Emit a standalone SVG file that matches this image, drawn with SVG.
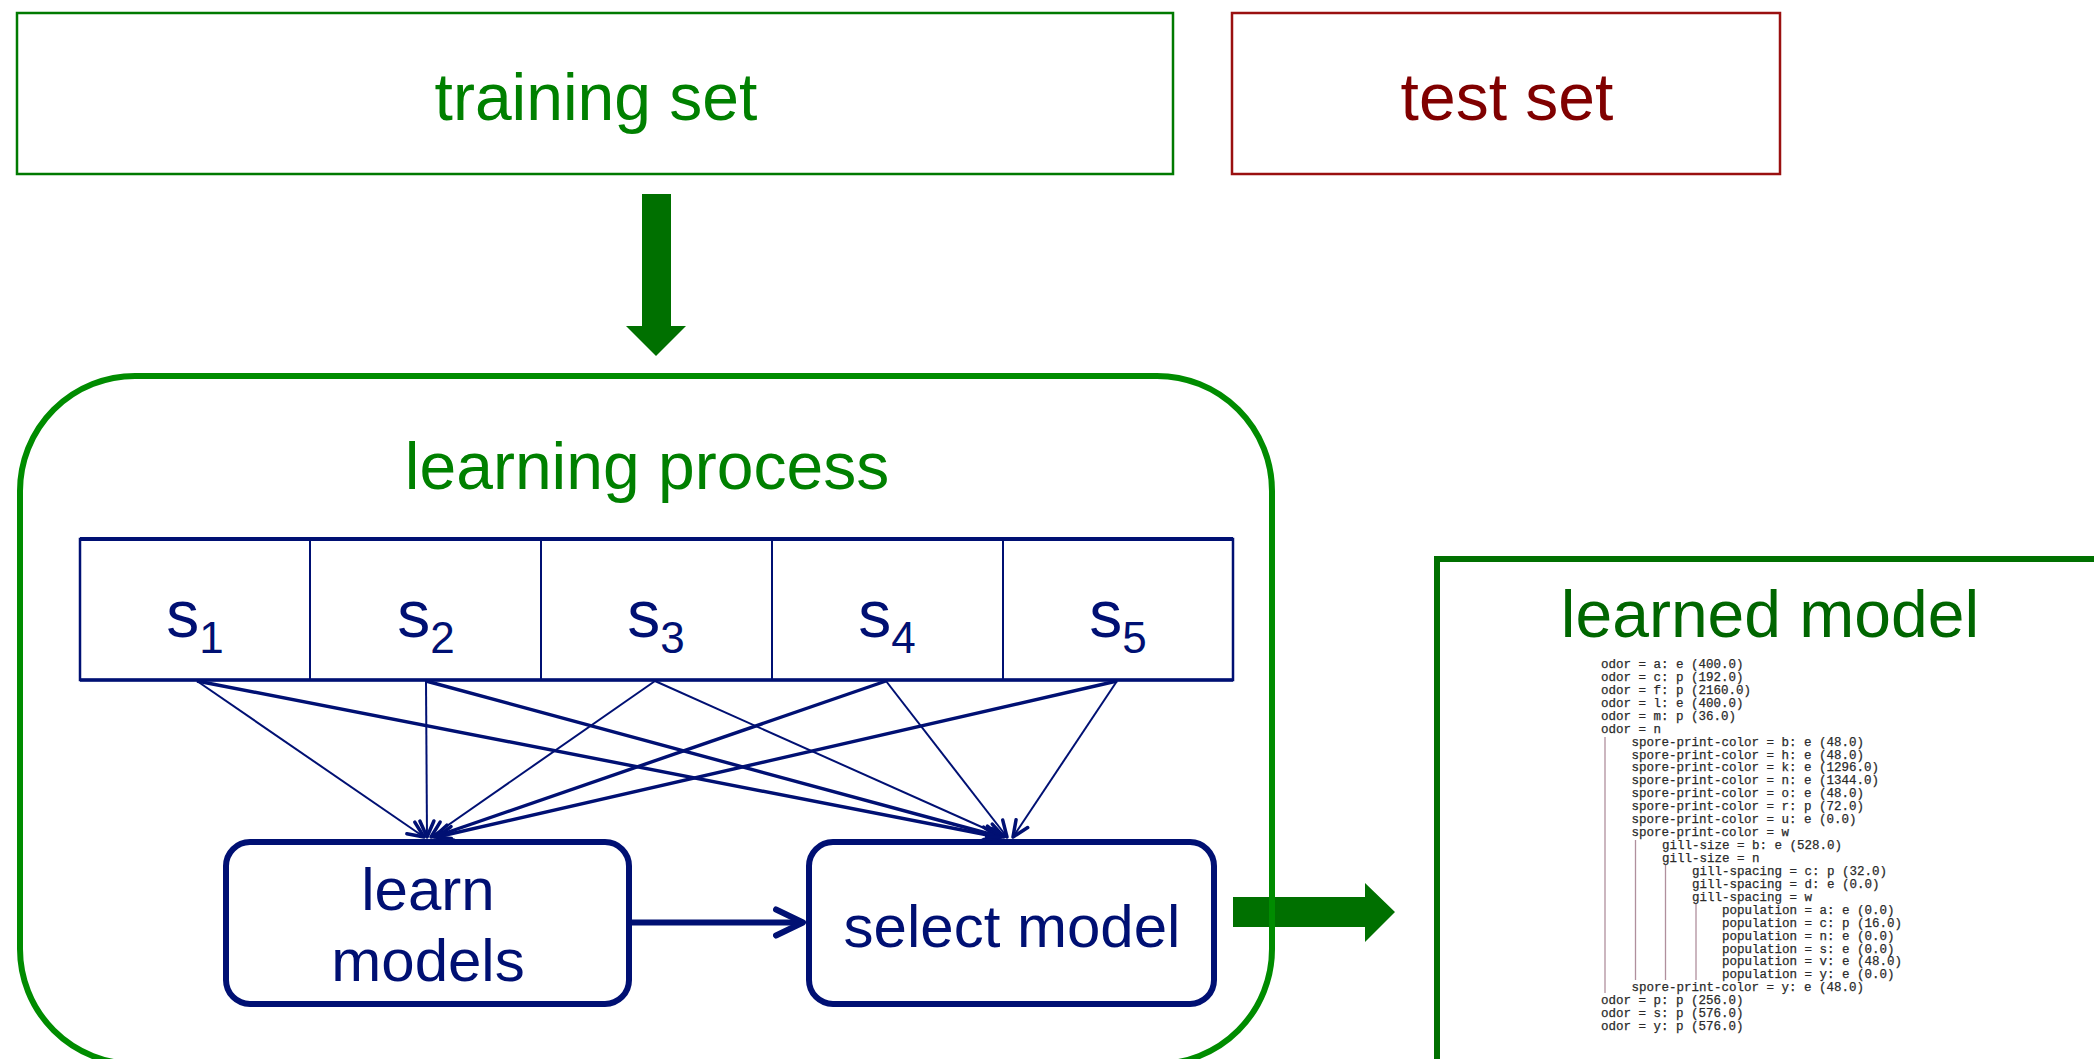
<svg xmlns="http://www.w3.org/2000/svg" width="2094" height="1059" viewBox="0 0 2094 1059">
<style>
.lbl{font-family:"Liberation Sans",Arial,sans-serif;text-anchor:middle}
.big{font-size:66px}
.navyt{fill:#001073}
.navy{stroke:#001073;fill:none}
.tree{font-family:"Liberation Mono","Courier New",monospace;font-size:12.5px;fill:#2a2a2a;stroke:#2a2a2a;stroke-width:0.25}
.pipe{stroke:#b08f9d;stroke-width:1.3}
.conn{stroke:#001073;fill:none;stroke-linecap:butt}
.thin{stroke-width:2}
.thick{stroke-width:3.4}
</style>
<defs>
<marker id="head" markerUnits="userSpaceOnUse" markerWidth="40" markerHeight="40" viewBox="-20 -20 40 40" refX="0" refY="0" orient="auto">
<path d="M-16,-7 L0,0 L-16,7" fill="none" stroke="#001073" stroke-width="3.5" stroke-linecap="round" stroke-linejoin="round"/>
</marker>
<marker id="headBig" markerUnits="userSpaceOnUse" markerWidth="60" markerHeight="60" viewBox="-30 -30 60 60" refX="0" refY="0" orient="auto">
<path d="M-27,-13 L0,0 L-27,13" fill="none" stroke="#001073" stroke-width="6" stroke-linecap="round" stroke-linejoin="round"/>
</marker>
</defs>
<rect width="2094" height="1059" fill="#ffffff"/>

<g id="training-set">
<rect x="17" y="13" width="1156" height="161" fill="none" stroke="#007a00" stroke-width="2.5"/>
<text class="lbl big" x="596" y="120" fill="#008000">training set</text>
</g>

<g id="test-set">
<rect x="1232" y="13" width="548" height="161" fill="none" stroke="#9a1010" stroke-width="2.5"/>
<text class="lbl big" x="1507" y="120" fill="#800000">test set</text>
</g>

<g id="arrow-down">
<polygon points="642,194 671,194 671,326 686,326 656,356 626,326 642,326" fill="#007000"/>
</g>

<g id="arrow-right">
<polygon points="1233,897 1365,897 1365,883 1395,912 1365,942 1365,927 1233,927" fill="#007000"/>
</g>

<g id="learning-process">
<rect x="20" y="376" width="1252" height="688" rx="115" ry="115" fill="none" stroke="#008c00" stroke-width="6"/>
<text class="lbl big" x="647" y="489" fill="#008000">learning process</text>
</g>

<g id="splits">
<rect x="80" y="539" width="1153" height="141" fill="#ffffff" class="navy" stroke-width="2.5"/>
<line x1="80" y1="539" x2="1233" y2="539" class="navy" stroke-width="4"/>
<line x1="80" y1="680" x2="1233" y2="680" class="navy" stroke-width="3.5"/>
<line x1="310" y1="539" x2="310" y2="680" class="navy" stroke-width="2"/>
<line x1="541" y1="539" x2="541" y2="680" class="navy" stroke-width="2"/>
<line x1="772" y1="539" x2="772" y2="680" class="navy" stroke-width="2"/>
<line x1="1003" y1="539" x2="1003" y2="680" class="navy" stroke-width="2"/>
<text class="lbl navyt" x="195" y="637" font-size="66">s<tspan font-size="44" dy="16">1</tspan></text>
<text class="lbl navyt" x="426" y="637" font-size="66">s<tspan font-size="44" dy="16">2</tspan></text>
<text class="lbl navyt" x="656" y="637" font-size="66">s<tspan font-size="44" dy="16">3</tspan></text>
<text class="lbl navyt" x="887" y="637" font-size="66">s<tspan font-size="44" dy="16">4</tspan></text>
<text class="lbl navyt" x="1118" y="637" font-size="66">s<tspan font-size="44" dy="16">5</tspan></text>
</g>

<g id="learn-models">
<rect x="226" y="842" width="403" height="162" rx="24" ry="24" fill="#ffffff" class="navy" stroke-width="6"/>
<text class="lbl navyt" x="428" y="910" font-size="60">learn</text>
<text class="lbl navyt" x="428" y="981" font-size="60">models</text>
</g>

<g id="select-model">
<rect x="809" y="842" width="405" height="162" rx="24" ry="24" fill="#ffffff" class="navy" stroke-width="6"/>
<text class="lbl navyt" x="1012" y="947" font-size="60">select model</text>
</g>

<g id="connectors">
<line class="conn thin" x1="197" y1="681" x2="424" y2="837" marker-end="url(#head)"/>
<line class="conn thick" x1="197" y1="681" x2="998" y2="837" marker-end="url(#head)"/>
<line class="conn thin" x1="426" y1="681" x2="427" y2="837" marker-end="url(#head)"/>
<line class="conn thick" x1="426" y1="681" x2="1001" y2="837" marker-end="url(#head)"/>
<line class="conn thin" x1="655" y1="681" x2="431" y2="837" marker-end="url(#head)"/>
<line class="conn thin" x1="655" y1="681" x2="1004" y2="837" marker-end="url(#head)"/>
<line class="conn thick" x1="886" y1="681" x2="434" y2="837" marker-end="url(#head)"/>
<line class="conn thin" x1="886" y1="681" x2="1007" y2="837" marker-end="url(#head)"/>
<line class="conn thick" x1="1117" y1="681" x2="437" y2="837" marker-end="url(#head)"/>
<line class="conn thin" x1="1117" y1="681" x2="1013" y2="837" marker-end="url(#head)"/>
<line class="conn" stroke-width="6" x1="632" y1="922.5" x2="803" y2="922.5" marker-end="url(#headBig)"/>
</g>

<g id="learned-model">
<rect x="1437" y="559" width="700" height="560" fill="none" stroke="#007000" stroke-width="6"/>
<text class="lbl big" x="1770" y="637" fill="#006600">learned model</text>
<g id="tree">
<line class="pipe" x1="1605" y1="737" x2="1605" y2="993"/>
<line class="pipe" x1="1635.5" y1="840" x2="1635.5" y2="980"/>
<line class="pipe" x1="1665.5" y1="865" x2="1665.5" y2="980"/>
<line class="pipe" x1="1696" y1="903" x2="1696" y2="980"/>
<text class="tree" x="1601" y="668">odor = a: e (400.0)</text>
<text class="tree" x="1601" y="680.9">odor = c: p (192.0)</text>
<text class="tree" x="1601" y="693.9">odor = f: p (2160.0)</text>
<text class="tree" x="1601" y="706.8">odor = l: e (400.0)</text>
<text class="tree" x="1601" y="719.7">odor = m: p (36.0)</text>
<text class="tree" x="1601" y="732.7">odor = n</text>
<text class="tree" x="1631.5" y="745.6">spore-print-color = b: e (48.0)</text>
<text class="tree" x="1631.5" y="758.5">spore-print-color = h: e (48.0)</text>
<text class="tree" x="1631.5" y="771.4">spore-print-color = k: e (1296.0)</text>
<text class="tree" x="1631.5" y="784.4">spore-print-color = n: e (1344.0)</text>
<text class="tree" x="1631.5" y="797.3">spore-print-color = o: e (48.0)</text>
<text class="tree" x="1631.5" y="810.2">spore-print-color = r: p (72.0)</text>
<text class="tree" x="1631.5" y="823.2">spore-print-color = u: e (0.0)</text>
<text class="tree" x="1631.5" y="836.1">spore-print-color = w</text>
<text class="tree" x="1662" y="849">gill-size = b: e (528.0)</text>
<text class="tree" x="1662" y="862">gill-size = n</text>
<text class="tree" x="1692" y="874.9">gill-spacing = c: p (32.0)</text>
<text class="tree" x="1692" y="887.8">gill-spacing = d: e (0.0)</text>
<text class="tree" x="1692" y="900.7">gill-spacing = w</text>
<text class="tree" x="1722" y="913.7">population = a: e (0.0)</text>
<text class="tree" x="1722" y="926.6">population = c: p (16.0)</text>
<text class="tree" x="1722" y="939.5">population = n: e (0.0)</text>
<text class="tree" x="1722" y="952.5">population = s: e (0.0)</text>
<text class="tree" x="1722" y="965.4">population = v: e (48.0)</text>
<text class="tree" x="1722" y="978.3">population = y: e (0.0)</text>
<text class="tree" x="1631.5" y="991.2">spore-print-color = y: e (48.0)</text>
<text class="tree" x="1601" y="1004.2">odor = p: p (256.0)</text>
<text class="tree" x="1601" y="1017.1">odor = s: p (576.0)</text>
<text class="tree" x="1601" y="1030">odor = y: p (576.0)</text>
</g>
</g>
</svg>
